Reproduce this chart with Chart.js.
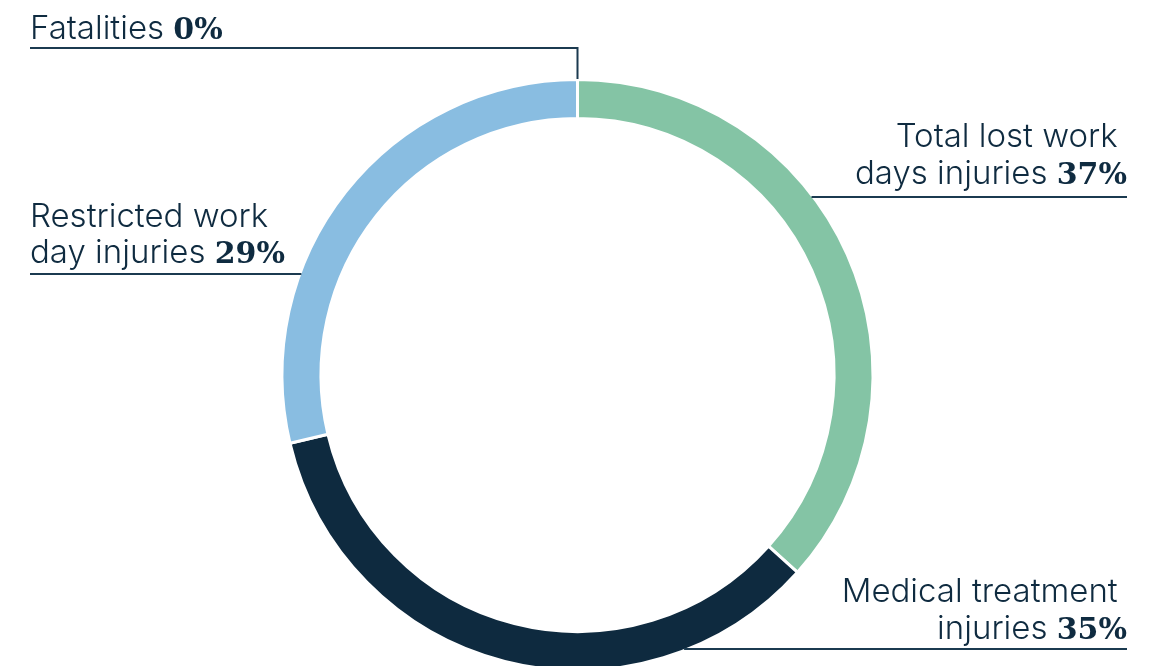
<!DOCTYPE html>
<html lang="en">
<head>
	<meta charset="utf-8">
	<title>Injury breakdown</title>
	<script src="https://cdn.jsdelivr.net/npm/chart.js@4.4.1/dist/chart.umd.min.js"></script>
	<style>
		html,
		body {
			margin: 0;
			background: #fff;
			overflow: hidden;
		}

		#wrap {
			position: absolute;
			left: 0;
			top: 0;
			width: 1162px;
			height: 700px;
		}
	</style>
</head>
<body>
	<div id="wrap"><canvas id="injuryChart"></canvas></div>

	<script>
		// categories in drawing order, clockwise from 12 o'clock
		const categories = ["Fatalities", "Total lost work days injuries", "Medical treatment injuries", "Restricted work day injuries"]
		const shares = [0, 37, 35, 29]
		const sliceColours = ["#0e2a3f", "#84c4a5", "#0e2a3f", "#89bde1"]

		// how each label is broken into lines (percentage goes on the last line)
		const labelLines = [
			["Fatalities "],
			["Total lost work ", "days injuries "],
			["Medical treatment ", "injuries "],
			["Restricted work", "day injuries "]
		]

		const inkColour = "#0f2b40"
		const regularFont = "300 33px Inter, 'Liberation Sans', sans-serif"
		const boldFont = "bold 30px 'DejaVu Serif', 'Liberation Serif', serif"

		// where the callouts sit: text side, baselines, leader line height
		const callouts = [
			{ side: "left", x: 30, baselines: [39], lineY: 48, vertical: true },
			{ side: "right", x: 1127, baselines: [147, 184], lineY: 197 },
			{ side: "right", x: 1127, baselines: [602, 639], lineY: 649 },
			{ side: "left", x: 30, baselines: [227, 263], lineY: 274 }
		]

		const sliceBorder = 3

		const calloutPlugin = {
			id: "callouts",
			afterDraw(chart) {
				const ctx = chart.ctx
				const arc = chart.getDatasetMeta(0).data[1]
				const cx = arc.x, cy = arc.y
				const r = arc.outerRadius - sliceBorder / 2

				ctx.save()
				ctx.fillStyle = inkColour
				ctx.strokeStyle = "#1b3a50"
				ctx.lineWidth = 2
				ctx.textBaseline = "alphabetic"
				ctx.textAlign = "left"

				callouts.forEach((c, i) => {
					const lines = labelLines[i]
					const pct = shares[i] + "%"
					lines.forEach((txt, j) => {
						const last = j == lines.length - 1
						ctx.font = regularFont
						const w1 = ctx.measureText(txt).width
						ctx.font = boldFont
						const w2 = last ? ctx.measureText(pct).width : 0
						let x = c.side == "left" ? c.x : c.x - w1 - w2
						ctx.font = regularFont
						ctx.fillText(txt, x, c.baselines[j])
						if (last) {
							ctx.font = boldFont
							ctx.fillText(pct, x + w1, c.baselines[j])
						}
					})

					ctx.beginPath()
					if (c.vertical) {
						// elbow down to the top of the ring
						ctx.moveTo(c.x, c.lineY)
						ctx.lineTo(cx, c.lineY)
						ctx.lineTo(cx, cy - r - 2)
					} else {
						const dy = c.lineY - cy
						const dx = Math.sqrt(Math.max(r * r - dy * dy, 0))
						const edge = c.side == "left" ? cx - dx : cx + dx
						ctx.moveTo(c.x, c.lineY)
						ctx.lineTo(edge, c.lineY)
					}
					ctx.stroke()
				})
				ctx.restore()
			}
		}

		new Chart("injuryChart", {
			type: "doughnut",
			data: {
				labels: categories,
				datasets: [{
					data: shares,
					backgroundColor: sliceColours,
					borderColor: "#ffffff",
					borderWidth: sliceBorder
				}]
			},
			options: {
				responsive: true,
				maintainAspectRatio: false,
				animation: false,
				cutout: "86.8%",
				rotation: 0,
				layout: {
					padding: { top: 78, bottom: 28, left: 0, right: 7 }
				},
				plugins: {
					legend: { display: false },
					tooltip: { enabled: false }
				}
			},
			plugins: [calloutPlugin]
		})
	</script>
</body>
</html>
